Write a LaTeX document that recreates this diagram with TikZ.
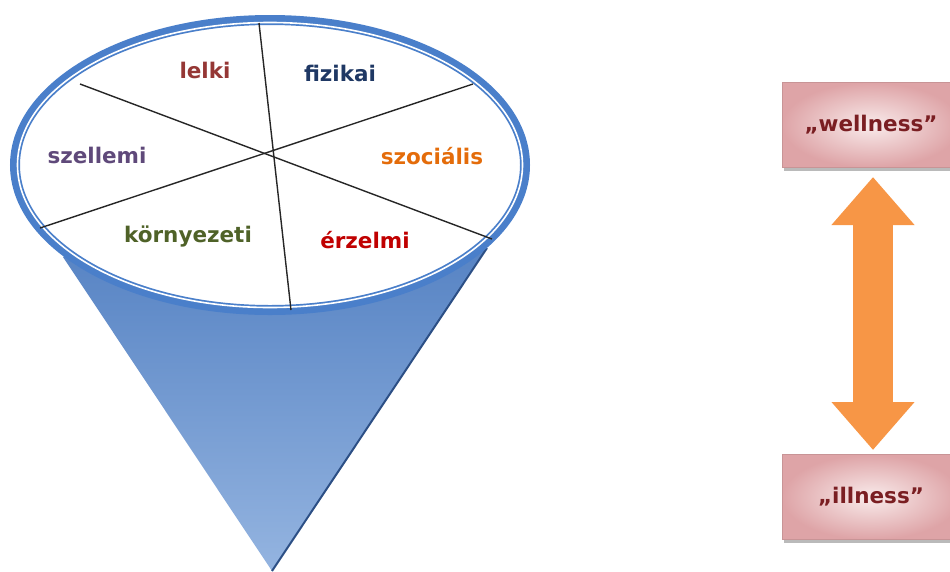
\documentclass[tikz,border=0pt]{standalone}
\usepackage{fontspec}
\setmainfont{DejaVu Sans}
\usetikzlibrary{arrows.meta,shadows}
\definecolor{ringblue}{HTML}{4A7FCA}
\definecolor{conetop}{HTML}{4676BC}
\definecolor{conebot}{HTML}{94B4E0}
\definecolor{coneedge}{HTML}{2C4F85}
\definecolor{cLelki}{HTML}{953735}
\definecolor{cFiz}{HTML}{1F3864}
\definecolor{cSzoc}{HTML}{E46C0A}
\definecolor{cErz}{HTML}{C00000}
\definecolor{cKorny}{HTML}{4F6228}
\definecolor{cSzell}{HTML}{5F497A}
\definecolor{boxouter}{HTML}{DEA4A7}
\definecolor{boxinner}{HTML}{F9EBEB}
\definecolor{boxtext}{HTML}{7A1E22}
\definecolor{arroworange}{HTML}{F79646}
\tikzset{
  lbl/.style={font=\fontsize{21.5}{23}\selectfont\bfseries, inner sep=0pt},
  spoke/.style={draw=black!85, line width=1.4pt},
  pole/.style={rectangle, minimum width=178pt, minimum height=85pt,
    inner color=boxinner, outer color=boxouter,
    draw=boxouter!90!black, line width=0.6pt,
    drop shadow={shadow xshift=1.5pt, shadow yshift=-3pt, fill=black!45, opacity=0.6},
    text=boxtext, font=\fontsize{21.5}{23}\selectfont\bfseries},
  bigarrow/.style={draw=arroworange, line width=40pt,
    {Triangle[width=80pt,length=48pt]}-{Triangle[width=80pt,length=48pt]}}
}
\begin{document}
\begin{tikzpicture}[x=1pt,y=-1pt]
\useasboundingbox (0,0) rectangle (950,571);
\clip (0,0) rectangle (950,571);
% cone
\coordinate (cl) at (63,257);
\coordinate (cr) at (487,248);
\coordinate (apex) at (272,571);
\shade[top color=conetop, bottom color=conebot] (cl) -- (apex) -- (cr) -- (270,160) -- cycle;
\draw[coneedge, line width=2pt] (cr) -- (apex);
% rim
\draw[ringblue, fill=white, line width=10pt] (270,165) ellipse [x radius=255, y radius=145];
\draw[white, line width=1.6pt] (270,165) ellipse [x radius=252.5, y radius=142.5];
% spokes
\coordinate (s1a) at (259,23);  \coordinate (s1b) at (291,310);
\coordinate (s2a) at (80,84);   \coordinate (s2b) at (492,239);
\coordinate (s3a) at (40,228);  \coordinate (s3b) at (473,84);
\draw[spoke] (s1a) -- (s1b);
\draw[spoke] (s2a) -- (s2b);
\draw[spoke] (s3a) -- (s3b);
% labels
\node[lbl, text=cLelki] (lelki) at (205,70) {lelki};
\node[lbl, text=cFiz] (fiz) at (340,73) {fizikai};
\node[lbl, text=cSzell] (szell) at (97,155) {szellemi};
\node[lbl, text=cSzoc] (szoc) at (432,156) {szociális};
\node[lbl, text=cKorny] (korny) at (188,236) {környezeti};
\node[lbl, text=cErz] (erz) at (365,240) {érzelmi};
% right side
\node[pole] (well) at (871,125) {„wellness”};
\node[pole] (ill) at (871,497) {„illness”};
\coordinate (atop) at (873,177);
\coordinate (abot) at (873,450);
\draw[bigarrow] (atop) -- (abot);
\end{tikzpicture}
\end{document}
